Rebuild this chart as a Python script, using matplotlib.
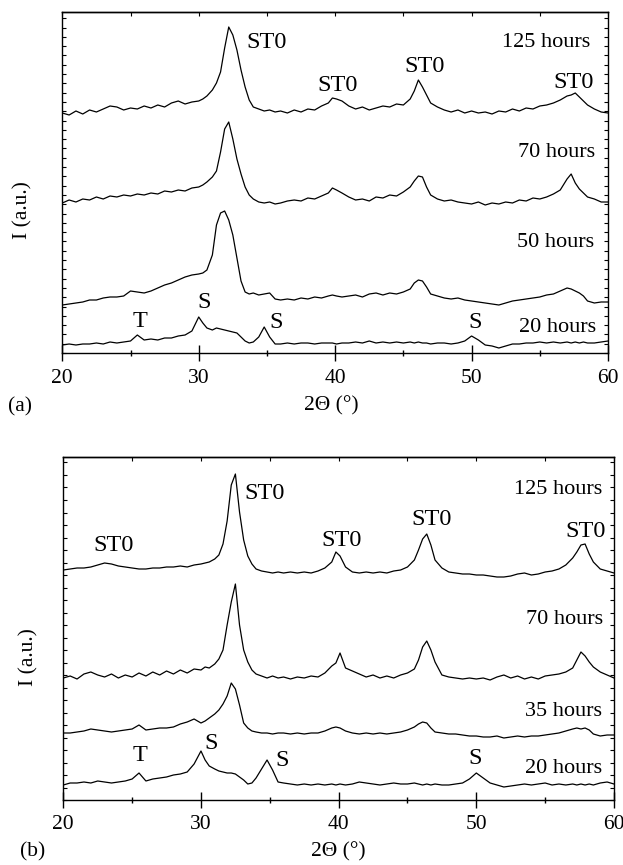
import matplotlib
matplotlib.use("Agg")
import matplotlib.pyplot as plt
from matplotlib.ticker import MultipleLocator, NullFormatter

plt.rcParams["font.family"] = ["Liberation Serif", "DejaVu Serif"]

# ----------------------------------------------------------
# DATA  (intensity in arbitrary units, offset per milling time)
# ----------------------------------------------------------

TWO_THETA = [
    20, 20.5, 21, 21.5, 22, 22.5, 23, 23.5, 24, 24.5, 25, 25.5, 26, 26.5, 27, 27.5, 28, 28.5, 29, 29.5,
    30, 30.3, 30.6, 31, 31.3, 31.6, 31.9, 32.2, 32.5, 32.8, 33.1, 33.4, 33.7, 34, 34.4, 34.8, 35.2, 35.6,
    36, 36.5, 37, 37.5, 38, 38.5, 39, 39.5,
    39.8, 40.1, 40.5,
    41, 41.5, 42, 42.5, 43, 43.5, 44, 44.5, 45, 45.5,
    45.8, 46.1, 46.4, 46.7, 47,
    47.5, 48, 48.5, 49, 49.5, 50, 50.5, 51, 51.5, 52, 52.5, 53, 53.5, 54, 54.5, 55, 55.5, 56, 56.5, 57,
    57.3, 57.6, 57.9, 58.2, 58.5,
    59, 59.5, 60,
]

# panel (a)
A_125H = [
    240, 238, 242, 239, 243, 241, 244, 247, 246, 243, 245, 244, 247, 245, 248, 246, 250, 252, 249, 251,
    252, 254, 257, 263, 270, 281, 305, 326, 318, 303, 283, 266, 253, 246, 244, 242, 243, 241,
    242, 240, 243, 241, 244, 243, 247, 250,
    255, 254, 252,
    247, 244, 246, 243, 245, 247, 246, 249, 248, 254,
    262, 273, 266, 258, 250,
    246, 243, 241, 243, 240, 242, 240, 241, 239, 242, 241, 244, 242, 245, 244, 247, 248, 250, 253, 257,
    258, 260, 256, 252, 248,
    244, 241, 240,
]
A_70H = [
    150, 153, 151, 154, 153, 156, 154, 157, 156, 158, 157, 159, 158, 160, 159, 162, 161, 163, 162, 165,
    166, 168, 171, 176, 182, 201, 224, 231, 214, 194, 179, 166, 158, 154, 151, 150, 151, 149,
    150, 152, 153, 152, 155, 154, 157, 160,
    165, 163, 160,
    156, 153, 154, 152, 156, 155, 158, 157, 161, 166,
    172, 177, 176, 166, 158,
    154, 152, 153, 151, 150, 149, 151, 148, 150, 149, 151, 150, 153, 152, 155, 154, 156, 159, 163, 174,
    179, 170, 164, 160, 156,
    154, 151, 151,
]
A_50H = [
    48, 49, 50, 51, 53, 53, 55, 56, 56, 57, 62, 61, 60, 62, 65, 68, 70, 73, 76, 78,
    79, 80, 83, 98, 128, 140, 142, 133, 118, 95, 72, 61, 59, 60, 58, 59, 60, 54,
    53, 54, 53, 55, 54, 56, 55, 57,
    58, 57, 56,
    57, 58, 56, 59, 60, 58, 60, 59, 61, 64,
    70, 73, 72, 66, 59,
    57, 55, 54, 55, 53, 52, 51, 50, 49, 48, 50, 52, 53, 54, 55, 56, 58, 59, 62, 65,
    64, 62, 60, 57, 52,
    50, 51, 51,
]
A_20H = [
    8, 9, 8, 9, 9, 10, 9, 11, 10, 11, 12, 18, 13, 14, 13, 15, 15, 17, 18, 22,
    36, 30, 25, 23, 25, 24, 23, 22, 21, 20, 16, 12, 10, 11, 16, 26, 16, 9,
    9, 10, 9, 10, 10, 9, 10, 10,
    10, 9, 10,
    10, 11, 10, 12, 10, 11, 10, 11, 10, 11,
    10, 11, 10, 10, 9,
    10, 10, 9, 10, 12, 17, 13, 8, 7, 5, 7, 9, 9, 10, 10, 11, 10, 11, 10, 11,
    10, 11, 10, 11, 10,
    10, 11, 12,
]

# panel (b)
B_125H = [
    230, 231, 232, 232, 233, 235, 237, 236, 234, 233, 232, 231, 231, 232, 232, 233, 233, 234, 233, 235,
    236, 237, 238, 241, 245, 256, 279, 315, 326, 288, 260, 244, 236, 231, 229, 228, 227, 228,
    227, 228, 227, 228, 227, 229, 232, 238,
    248, 244, 233,
    228, 227, 228, 227, 228, 227, 229, 230, 233, 240,
    250, 261, 266, 255, 240,
    232, 228, 227, 226, 226, 225, 225, 224, 223, 223, 224, 226, 227, 225, 226, 228, 229, 231, 235, 242,
    248, 255, 256, 246, 238,
    231, 229, 227,
]
B_70H = [
    122, 124, 121, 126, 128, 125, 123, 126, 122, 125, 123, 127, 124, 128, 125, 129, 126, 130, 127, 131,
    130, 133, 132, 136, 141, 150, 175, 198, 216, 175, 150, 138, 130, 126, 124, 122, 124, 122,
    123, 121, 123, 122, 124, 123, 127, 134,
    137, 147, 132,
    129, 126, 123, 125, 122, 124, 122, 125, 127, 131,
    140, 153, 159, 150, 138,
    125, 123, 122, 121, 122, 121, 122, 120, 123, 125, 122, 124, 121, 123, 121, 124, 125, 126, 128, 132,
    140, 148, 144, 138, 133,
    128, 125, 122,
]
B_35H = [
    67, 67, 68, 69, 71, 70, 69, 68, 69, 70, 71, 75, 70, 71, 72, 72, 73, 76, 78, 81,
    77, 79, 82, 86, 90, 96, 104, 117, 111, 95, 77, 72, 69, 68, 67, 67, 66, 67,
    67, 66, 67, 66, 67, 67, 69, 72,
    73, 72, 69,
    67, 66, 67, 66, 67, 66, 67, 68, 70, 73,
    76, 78, 77, 72, 68,
    67, 66, 66, 65, 64, 64, 63, 63, 64, 62, 63, 64, 63, 64, 64, 65, 66, 67, 69, 71,
    72, 71, 72, 70, 66,
    64, 65, 65,
]
B_20H = [
    15, 17, 17, 18, 17, 19, 18, 17, 18, 19, 21, 27, 19, 21, 22, 23, 25, 26, 28, 36,
    49, 40, 34, 31, 29, 28, 27, 27, 26, 23, 20, 16, 17, 22, 31, 40, 30, 18,
    17, 16, 15, 16, 15, 16, 15, 16,
    15, 16, 15,
    16, 18, 17, 16, 15, 16, 17, 16, 16, 17,
    16, 15, 16, 15, 16,
    15, 15, 16, 17, 21, 27, 22, 17, 15, 13, 14, 15, 16, 15, 16, 17, 15, 16, 15, 16,
    15, 16, 15, 16, 15,
    17, 18, 16,
]

TRACES_A = [A_125H, A_70H, A_50H, A_20H]
TRACES_B = [B_125H, B_70H, B_35H, B_20H]
TIME_LABELS_A = ["125 hours", "70 hours", "50 hours", "20 hours"]
TIME_LABELS_B = ["125 hours", "70 hours", "35 hours", "20 hours"]

for trace in TRACES_A + TRACES_B:
    assert len(trace) == len(TWO_THETA)


# ----------------------------------------------------------
# PLOTTING
# ----------------------------------------------------------

W, H = 623, 865


def fig_xy(px, py):
    return px / W, 1 - py / H


def style_axes(ax, y_top, y_step, label_pad):
    ax.set_xlim(20, 60)
    ax.set_ylim(0, y_top)
    ax.xaxis.set_major_locator(MultipleLocator(10))
    ax.xaxis.set_minor_locator(MultipleLocator(5))
    ax.tick_params(axis="x", which="major", direction="inout", length=11, width=1,
                   labelsize=15.5, pad=label_pad, top=False)
    ax.tick_params(axis="x", which="minor", direction="inout", length=5, width=1, top=False)

    ax.yaxis.set_major_locator(MultipleLocator(y_step))
    ax.tick_params(axis="y", which="major", direction="in", length=3, width=0.8,
                   left=True, right=True, labelleft=False)

    top = ax.secondary_xaxis("top")
    top.xaxis.set_major_locator(MultipleLocator(5))
    top.xaxis.set_major_formatter(NullFormatter())
    top.tick_params(direction="in", length=3, width=0.8)
    top.spines["top"].set_linewidth(1.0)

    for sp in ax.spines.values():
        sp.set_linewidth(1.0)


def draw_panel(ax, traces):
    for values in traces:
        ax.plot(TWO_THETA, values, color="black", lw=0.9)


fig = plt.figure(figsize=(W / 100, H / 100), dpi=100)

ax_a = fig.add_axes([62.3 / W, (H - 353) / H, 545.7 / W, 341 / H])
ax_b = fig.add_axes([63.3 / W, (H - 800) / H, 550.7 / W, 343 / H])

draw_panel(ax_a, TRACES_A)
draw_panel(ax_b, TRACES_B)
style_axes(ax_a, 341, 9.3, 6)
style_axes(ax_b, 343, 12.5, 5)

peak_fs = 17.5
time_fs = 16

# phase markers, panel (a)
for txt, x, y in [("ST0", 34.94, 304.7), ("ST0", 40.16, 262.3), ("ST0", 46.57, 281.3),
                  ("ST0", 57.45, 264.7), ("T", 25.69, 26.3), ("S", 30.38, 44.7),
                  ("S", 35.69, 24.7), ("S", 50.23, 25.3)]:
    ax_a.text(x, y, txt, fontsize=peak_fs, ha="center", va="baseline")

for txt, x, y in zip(TIME_LABELS_A, [58.73, 59.02, 58.95, 59.10], [306.3, 195.7, 106.3, 20.7]):
    ax_a.text(x, y, txt, fontsize=time_fs, ha="right", va="baseline")

# phase markers, panel (b)
for txt, x, y in [("ST0", 23.62, 249.3), ("ST0", 34.61, 301), ("ST0", 40.20, 254.3),
                  ("ST0", 46.78, 275), ("ST0", 57.92, 263.3), ("T", 25.58, 39.3),
                  ("S", 30.77, 50.7), ("S", 35.88, 34.3), ("S", 49.9, 36)]:
    ax_b.text(x, y, txt, fontsize=peak_fs, ha="center", va="baseline")

for txt, x, y in zip(TIME_LABELS_B, [59.12, 59.18, 59.12, 59.12], [306, 176, 84.3, 27.3]):
    ax_b.text(x, y, txt, fontsize=time_fs, ha="right", va="baseline")

# axis titles and panel tags
for (px, py), txt in [((331, 410), "2\u0398 (\u00b0)"), ((338, 856), "2\u0398 (\u00b0)"),
                      ((20, 411), "(a)"), ((33, 856), "(b)")]:
    fig.text(*fig_xy(px, py), txt, fontsize=15.5, ha="center", va="baseline")

for px, py in [(22.5, 210), (29, 657)]:
    fig.text(*fig_xy(px, py), "I (a.u.)", fontsize=15.5, ha="center", va="center", rotation=90)

fig.savefig("out.png", dpi=100, facecolor="white")
